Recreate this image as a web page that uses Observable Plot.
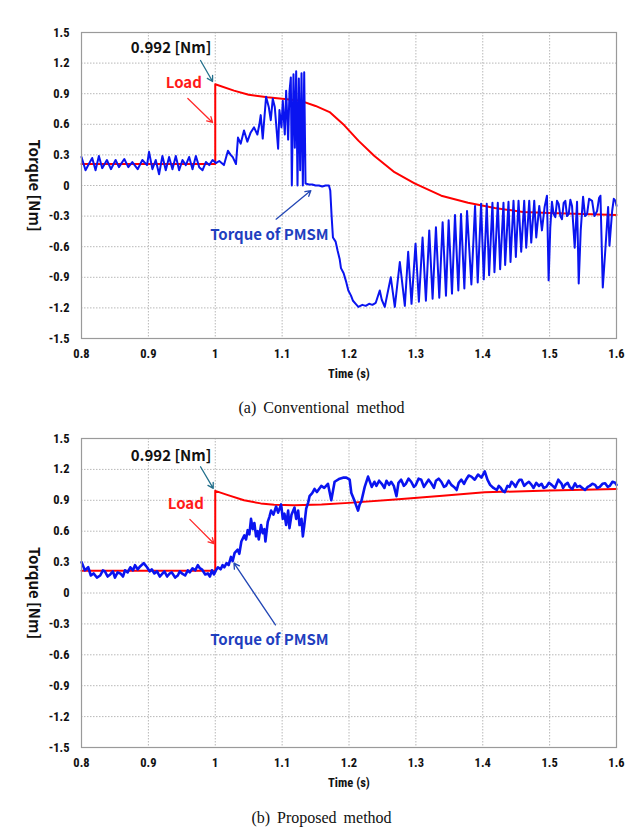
<!DOCTYPE html>
<html>
<head>
<meta charset="utf-8">
<script src="https://cdn.jsdelivr.net/npm/d3@7"></script>
<script src="https://cdn.jsdelivr.net/npm/@observablehq/plot@0.6"></script>
<style>
  html, body { margin: 0; padding: 0; background: #fff; }
  #wrap { width: 643px; }
  .cap { width: 643px; text-align: center; font-family: "Liberation Serif", "Times New Roman", serif; font-size: 16px; color: #111; word-spacing: 3px; }
  svg { display: block; }
</style>
</head>
<body>
<div id="wrap"></div>
<script>
// ---- tick labels ----
const xTicks = [0.8, 0.9, 1.0, 1.1, 1.2, 1.3, 1.4, 1.5, 1.6];
const yTicks = [-1.5, -1.2, -0.9, -0.6, -0.3, 0, 0.3, 0.6, 0.9, 1.2, 1.5];

// ---- (a) Conventional method ----
const convLoad = [
  [0.8,0.21],[1.0,0.21],[1.0,0.992],[1.028,0.93],[1.05,0.89],[1.078,0.865],[1.1,0.85],[1.128,0.83],
  [1.15,0.78],[1.171,0.72],[1.193,0.59],[1.214,0.44],[1.238,0.29],[1.268,0.13],[1.298,0.02],
  [1.338,-0.10],[1.378,-0.17],[1.418,-0.22],[1.46,-0.26],[1.5,-0.27],[1.55,-0.28],[1.6,-0.29]
];
const convTorque = [
  [0.800,0.28],[0.806,0.15],[0.811,0.21],[0.816,0.27],[0.821,0.15],[0.826,0.29],[0.831,0.17],[0.838,0.25],
  [0.844,0.16],[0.851,0.25],[0.856,0.18],[0.864,0.26],[0.870,0.18],[0.876,0.23],[0.884,0.16],[0.891,0.25],
  [0.898,0.20],[0.901,0.33],[0.906,0.16],[0.911,0.25],[0.916,0.11],[0.921,0.29],[0.926,0.15],[0.931,0.28],
  [0.936,0.16],[0.941,0.29],[0.946,0.15],[0.951,0.25],[0.956,0.20],[0.961,0.28],[0.966,0.16],[0.971,0.29],
  [0.976,0.18],[0.981,0.15],[0.986,0.23],[0.991,0.20],[0.996,0.25],[1.001,0.22],
  [1.006,0.24],[1.013,0.20],[1.019,0.34],[1.023,0.30],[1.026,0.28],[1.031,0.21],[1.034,0.47],[1.038,0.41],
  [1.043,0.54],[1.048,0.43],[1.053,0.52],[1.058,0.57],[1.063,0.50],[1.066,0.60],[1.068,0.69],[1.071,0.46],
  [1.076,0.87],[1.080,0.77],[1.083,0.64],[1.086,0.85],[1.089,0.77],[1.094,0.36],[1.096,0.74],[1.099,0.57],
  [1.101,0.83],[1.104,0.50],[1.106,0.93],[1.109,0.45],[1.111,0.92],[1.113,1.06],[1.1145,0.0],[1.117,1.09],
  [1.119,0.37],[1.121,1.12],[1.123,0.0],[1.125,1.05],[1.127,0.15],[1.129,1.10],[1.131,0.0],[1.133,1.11],
  [1.135,0.02],[1.14,0.01],[1.145,0.01],[1.15,0.0],[1.155,0.0],[1.16,-0.01],[1.165,0.0],[1.17,0.0],
  [1.172,-0.05],[1.174,-0.30],[1.176,-0.51],[1.18,-0.55],[1.183,-0.64],[1.186,-0.72],[1.188,-0.81],
  [1.192,-0.86],[1.196,-0.95],[1.199,-1.03],[1.203,-1.08],[1.206,-1.13],[1.21,-1.16],[1.214,-1.19],
  [1.22,-1.17],[1.225,-1.18],[1.23,-1.16],[1.235,-1.17],[1.24,-1.15],[1.246,-1.03],[1.249,-1.12],
  [1.2535,-1.19],[1.2625,-0.90],[1.2685,-1.19],[1.276,-0.75],[1.2835,-1.18],[1.2885,-0.65],[1.2935,-1.16],
  [1.2995,-0.57],[1.3045,-1.14],[1.31,-0.51],[1.315,-1.13],[1.32,-0.44],[1.325,-1.11],[1.33,-0.41],
  [1.335,-1.10],[1.34,-0.36],[1.345,-1.08],[1.349,-0.34],[1.354,-1.06],[1.3585,-0.29],[1.3635,-1.03],
  [1.3675,-0.28],[1.3725,-1.01],[1.3765,-0.25],[1.383,-0.97],[1.3885,-0.20],[1.3925,-0.95],[1.3975,-0.18],
  [1.4015,-0.92],[1.406,-0.18],[1.4095,-0.88],[1.4145,-0.17],[1.4175,-0.85],[1.4225,-0.17],[1.426,-0.82],
  [1.431,-0.17],[1.4335,-0.78],[1.4385,-0.16],[1.4415,-0.75],[1.446,-0.15],[1.4495,-0.70],[1.4535,-0.15],
  [1.4575,-0.65],[1.462,-0.15],[1.465,-0.61],[1.4695,-0.15],[1.4725,-0.56],[1.477,-0.15],[1.48,-0.51],
  [1.4845,-0.20],[1.4885,-0.44],[1.4925,-0.21],[1.496,-0.10],[1.4985,-0.93],[1.501,-0.41],[1.5035,-0.16],
  [1.506,-0.28],[1.5085,-0.31],[1.511,-0.15],[1.5135,-0.18],[1.516,-0.30],[1.5185,-0.33],[1.521,-0.17],
  [1.5235,-0.15],[1.526,-0.30],[1.5285,-0.28],[1.531,-0.14],[1.5335,-0.20],[1.5375,-0.61],[1.541,-0.16],
  [1.5435,-0.96],[1.5465,-0.44],[1.55,-0.11],[1.553,-0.30],[1.556,-0.28],[1.559,-0.13],[1.5635,-0.15],
  [1.567,-0.30],[1.571,-0.25],[1.574,-0.12],[1.576,-0.10],[1.5795,-1.00],[1.5835,-0.61],[1.5875,-0.21],
  [1.5895,-0.59],[1.5935,-0.25],[1.596,-0.13],[1.5985,-0.15],[1.6,-0.20]
];
const convNotes = [
  {label: "0.992 [Nm]", t: 0.934, v: 1.343, kind: "value"},
  {label: "Load", t: 0.953, v: 1.0, kind: "load"},
  {label: "Torque of PMSM", t: 1.081, v: -0.49, kind: "torque"}
];
const convArrows = [
  {t1: 0.978, v1: 1.225, t2: 0.996, v2: 1.02, kind: "value"},
  {t1: 0.959, v1: 0.853, t2: 0.996, v2: 0.618, kind: "load"},
  {t1: 1.091, v1: -0.33, t2: 1.143, v2: -0.05, kind: "torque"}
];

// ---- (b) Proposed method ----
const propLoad = [
  [0.8,0.215],[1.0,0.215],[1.0,0.992],[1.019,0.95],[1.043,0.90],[1.068,0.87],[1.088,0.857],[1.118,0.852],
  [1.159,0.86],[1.2,0.875],[1.274,0.91],[1.34,0.945],[1.403,0.978],[1.5,0.995],[1.6,1.01]
];
const propTorque = [
  [0.800,0.30],[0.805,0.22],[0.810,0.25],[0.814,0.17],[0.818,0.19],[0.823,0.15],[0.828,0.17],[0.832,0.22],
  [0.835,0.21],[0.839,0.16],[0.843,0.18],[0.847,0.21],[0.850,0.15],[0.854,0.20],[0.858,0.19],[0.862,0.16],
  [0.865,0.22],[0.869,0.20],[0.873,0.25],[0.877,0.22],[0.880,0.27],[0.884,0.23],[0.888,0.26],[0.893,0.29],
  [0.898,0.25],[0.902,0.21],[0.905,0.23],[0.909,0.19],[0.913,0.21],[0.917,0.16],[0.920,0.18],[0.924,0.21],
  [0.928,0.16],[0.932,0.19],[0.935,0.20],[0.940,0.15],[0.944,0.17],[0.947,0.21],[0.950,0.19],[0.955,0.17],
  [0.959,0.22],[0.962,0.20],[0.966,0.24],[0.970,0.22],[0.974,0.27],[0.977,0.24],[0.980,0.23],[0.985,0.18],
  [0.989,0.19],[0.992,0.16],[0.995,0.22],[0.998,0.18],[1.001,0.22],[1.004,0.25],[1.008,0.23],[1.011,0.27],
  [1.0135,0.25],[1.017,0.29],[1.020,0.27],[1.0235,0.35],[1.026,0.31],[1.029,0.39],[1.0335,0.42],[1.036,0.38],
  [1.039,0.50],[1.0435,0.56],[1.046,0.52],[1.0485,0.61],[1.051,0.57],[1.0535,0.72],[1.056,0.62],[1.0585,0.68],
  [1.061,0.55],[1.0635,0.60],[1.065,0.52],[1.0685,0.66],[1.071,0.58],[1.0735,0.62],[1.075,0.50],[1.0785,0.69],
  [1.081,0.74],[1.0835,0.80],[1.087,0.76],[1.091,0.84],[1.094,0.78],[1.0985,0.86],[1.101,0.72],[1.1035,0.77],
  [1.106,0.66],[1.109,0.80],[1.111,0.63],[1.114,0.76],[1.1185,0.83],[1.121,0.72],[1.124,0.80],[1.126,0.66],
  [1.129,0.72],[1.131,0.55],[1.133,0.65],[1.136,0.82],[1.139,0.88],[1.141,0.94],[1.145,0.97],[1.1485,1.01],
  [1.152,0.98],[1.1585,1.04],[1.163,1.02],[1.1685,1.06],[1.1735,0.90],[1.1785,1.08],[1.186,1.11],[1.191,1.12],
  [1.196,1.12],[1.201,1.10],[1.2035,0.97],[1.2085,0.89],[1.2135,0.80],[1.216,0.86],[1.2185,0.89],[1.2235,1.03],
  [1.2285,1.13],[1.234,1.03],[1.238,1.08],[1.241,1.04],[1.245,1.09],[1.249,1.06],[1.253,1.02],[1.256,1.09],
  [1.260,1.05],[1.263,1.08],[1.267,1.04],[1.271,0.94],[1.274,1.07],[1.278,1.10],[1.282,1.04],[1.285,1.06],
  [1.289,1.11],[1.293,1.08],[1.297,1.03],[1.300,1.05],[1.304,1.11],[1.308,1.10],[1.312,1.03],[1.315,1.06],
  [1.319,1.10],[1.323,1.065],[1.327,1.02],[1.330,1.09],[1.334,1.11],[1.338,1.08],[1.342,1.03],[1.345,1.04],
  [1.349,1.09],[1.353,1.05],[1.357,1.03],[1.361,1.00],[1.364,1.07],[1.368,1.10],[1.372,1.06],[1.375,1.10],
  [1.379,1.14],[1.383,1.13],[1.388,1.10],[1.393,1.15],[1.398,1.12],[1.403,1.18],[1.407,1.10],[1.411,1.05],
  [1.416,1.02],[1.421,1.00],[1.424,1.04],[1.427,1.02],[1.430,0.99],[1.433,0.98],[1.437,1.04],[1.440,1.03],
  [1.443,1.08],[1.446,1.06],[1.449,1.03],[1.452,1.07],[1.455,1.10],[1.458,1.10],[1.462,1.04],[1.465,1.06],
  [1.469,1.08],[1.473,1.05],[1.476,1.02],[1.480,1.07],[1.484,1.04],[1.488,1.06],[1.491,1.02],[1.495,1.03],
  [1.499,1.07],[1.503,1.05],[1.508,1.02],[1.513,1.10],[1.518,1.06],[1.520,1.02],[1.523,1.05],[1.527,1.07],
  [1.530,1.03],[1.534,1.01],[1.538,1.065],[1.541,1.03],[1.545,1.04],[1.549,1.02],[1.553,1.00],[1.557,1.03],
  [1.560,1.04],[1.564,1.06],[1.568,1.05],[1.571,1.02],[1.575,1.03],[1.579,1.06],[1.583,1.065],[1.587,1.03],
  [1.590,1.04],[1.594,1.08],[1.598,1.07],[1.600,1.05]
];
const propNotes = [
  {label: "0.992 [Nm]", t: 0.934, v: 1.33, kind: "value"},
  {label: "Load", t: 0.956, v: 0.864, kind: "load"},
  {label: "Torque of PMSM", t: 1.081, v: -0.46, kind: "torque"}
];
const propArrows = [
  {t1: 0.978, v1: 1.226, t2: 0.997, v2: 1.016, kind: "value"},
  {t1: 0.962, v1: 0.715, t2: 0.998, v2: 0.48, kind: "load"},
  {t1: 1.09, v1: -0.31, t2: 1.028, v2: 0.29, kind: "torque"}
];

const caps = ["(a)  Conventional  method", "(b)  Proposed  method"];

// ---- styles ----
const noteColor = {value: "#111111", load: "#ff1a1a", torque: "#1f3fbf"};
const arrowColor = {value: "#23708c", load: "#ff2a2a", torque: "#2347b5"};
const tickFont = '"Liberation Sans Narrow", "Arial Narrow", "Roboto Condensed", "DejaVu Sans Condensed", sans-serif';
const noteFont = '"Noto Sans CJK KR", "Noto Sans", sans-serif';
const fmt = d => String(Math.round(d * 10) / 10);

function panel(torque, load, notes, arrows, opts) {
  return Plot.plot({
    width: 643,
    height: opts.height,
    marginTop: opts.marginTop,
    marginBottom: opts.marginBottom,
    marginLeft: 81,
    marginRight: 27,
    style: {fontFamily: tickFont, fontSize: "12.5px", fontWeight: "bold", color: "#111", background: "#fff", overflow: "visible"},
    x: {domain: [0.8, 1.6], ticks: xTicks, tickFormat: fmt, tickSize: 0, tickPadding: 11, label: null},
    y: {domain: [-1.5, 1.5], ticks: yTicks, tickFormat: fmt, tickSize: 0, tickPadding: 12, label: null},
    marks: [
      Plot.gridX(xTicks, {stroke: "#b8b8b8", strokeOpacity: 1, strokeDasharray: "1.5,1.5"}),
      Plot.gridY(yTicks, {stroke: "#b8b8b8", strokeOpacity: 1, strokeDasharray: "1.5,1.5"}),
      Plot.line(load, {x: d => d[0], y: d => d[1], stroke: "#ff0000", strokeWidth: 2}),
      Plot.line(torque, {x: d => d[0], y: d => d[1], stroke: "#0a14f0", strokeWidth: opts.torqueWidth, strokeLinejoin: "round"}),
      Plot.arrow(arrows, {x1: "t1", y1: "v1", x2: "t2", y2: "v2", stroke: d => arrowColor[d.kind], strokeWidth: 1.3, headLength: 7, bend: false}),
      Plot.text(notes, {x: "t", y: "v", text: "label", fill: d => noteColor[d.kind], fontFamily: noteFont, fontSize: 15, fontWeight: "bold"}),
      Plot.text(["Torque [Nm]"], {x: 0.728, y: 0, text: d => d, rotate: 90, fontFamily: noteFont, fontSize: 15, fontWeight: "bold", fill: "#111"}),
      Plot.text(["Time (s)"], {x: 1.2, y: opts.timeY, text: d => d, fontSize: 12.5, fontWeight: "bold", fill: "#111"}),
      Plot.frame({stroke: "#9a9a9a", strokeWidth: 1.2})
    ]
  });
}

const wrap = document.getElementById("wrap");
wrap.append(panel(convTorque, convLoad, convNotes, convArrows, {height: 390, marginTop: 32, marginBottom: 52, timeY: -1.845, torqueWidth: 2}));
const c1 = document.createElement("div"); c1.className = "cap"; c1.style.height = "36px"; c1.style.lineHeight = "36px"; c1.textContent = caps[0];
wrap.append(c1);
wrap.append(panel(propTorque, propLoad, propNotes, propArrows, {height: 368, marginTop: 12, marginBottom: 47, timeY: -1.845, torqueWidth: 2.6}));
const c2 = document.createElement("div"); c2.className = "cap"; c2.style.height = "48px"; c2.style.lineHeight = "48px"; c2.textContent = caps[1];
wrap.append(c2);
</script>
</body>
</html>
